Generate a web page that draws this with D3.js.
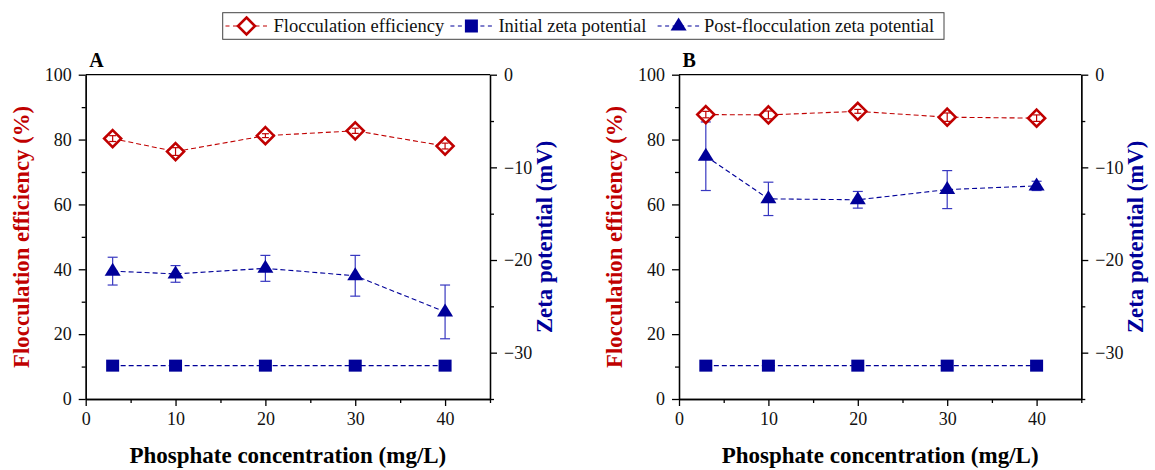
<!DOCTYPE html>
<html>
<head>
<meta charset="utf-8">
<script src="https://cdn.jsdelivr.net/npm/d3@7"></script>
<style>
  body { margin: 0; background: #fff; }
</style>
</head>
<body>
<svg id="chart" width="1155" height="470"></svg>
<script>
// data
var concentration = [3, 10, 20, 30, 40];

var effA = [80.3, 76.3, 81.2, 82.7, 78.0];
var effAErr = [0.9, 1.2, 0.6, 0.8, 0.9];
var initZetaA = [-31.4, -31.4, -31.4, -31.4, -31.4];
var postZetaA = [-21.2, -21.5, -20.9, -21.7, -25.6];
var postZetaAErr = [1.5, 0.9, 1.4, 2.2, 2.9];

var effB = [87.7, 87.6, 88.7, 86.9, 86.6];
var effBErr = [1.0, 1.2, 0.6, 1.3, 1.0];
var initZetaB = [-31.4, -31.4, -31.4, -31.4, -31.4];
var postZetaB = [-8.8, -13.4, -13.5, -12.4, -12.0];
var postZetaBErr = [3.7, 1.8, 0.9, 2.05, 0.5];

var leftTicks = [0, 20, 40, 60, 80, 100];
var leftMinor = [10, 30, 50, 70, 90];
var rightTicks = [0, -10, -20, -30];
var rightMinor = [-5, -15, -25, -35];
var xTicks = [0, 10, 20, 30, 40];
var xMinor = [5, 15, 25, 35, 45];

var legendLabels = ["Flocculation efficiency", "Initial zeta potential", "Post-flocculation zeta potential"];

var RED = "#c00000";
var NAVY = "#000099";
var ERRBLUE = "#3838c0";
var SERIF = "Liberation Serif";

var svg = d3.select("#chart");
var top_ = 74.7, bottom = 399;

var panels = [
  { letter: "A", left: 85.7, right: 490, eff: effA, effErr: effAErr, init: initZetaA, post: postZetaA, postErr: postZetaAErr },
  { letter: "B", left: 679, right: 1081.3, eff: effB, effErr: effBErr, init: initZetaB, post: postZetaB, postErr: postZetaBErr }
];

function diamond(g, r) {
  return g.append("path").attr("d", "M0," + (-r) + "L" + r + ",0L0," + r + "L" + (-r) + ",0Z");
}
function triangle(g) {
  return g.append("path").attr("d", "M0,-8.5L8,4.5L-8,4.5Z");
}

function styleAxis(a) {
  a.selectAll("path,line").attr("stroke", "#000").attr("stroke-width", 1.3);
  a.selectAll("text").attr("fill", "#111").style("font-family", SERIF).style("font-size", "18px");
}

function errorBars(g, xs, vals, errs, sc, xScale, color, cap) {
  var eb = g.append("g").attr("stroke", color).attr("stroke-width", 1.2);
  vals.forEach(function(v, i) {
    var x = xScale(xs[i]);
    var y1 = sc(v - errs[i]), y2 = sc(v + errs[i]);
    eb.append("line").attr("x1", x).attr("x2", x).attr("y1", y1).attr("y2", y2);
    eb.append("line").attr("x1", x - cap / 2).attr("x2", x + cap / 2).attr("y1", y1).attr("y2", y1);
    eb.append("line").attr("x1", x - cap / 2).attr("x2", x + cap / 2).attr("y1", y2).attr("y2", y2);
  });
}

function label(sel, size, bold) {
  return sel.style("font-family", SERIF).style("font-size", size + "px")
    .style("font-weight", bold ? "bold" : "normal");
}

panels.forEach(function(p) {
  var x = d3.scaleLinear().domain([0, 45]).range([p.left, p.right]);
  var y = d3.scaleLinear().domain([0, 100]).range([bottom, top_]);
  var yz = d3.scaleLinear().domain([-35, 0]).range([bottom, top_]);
  var g = svg.append("g");

  // frame top line
  g.append("line").attr("x1", p.left).attr("x2", p.right).attr("y1", top_).attr("y2", top_)
    .attr("stroke", "#000").attr("stroke-width", 1.3);

  var ax;
  ax = g.append("g").attr("transform", "translate(0," + bottom + ")")
    .call(d3.axisBottom(x).tickValues(xTicks).tickSize(7).tickPadding(6).tickSizeOuter(0));
  styleAxis(ax);
  ax = g.append("g").attr("transform", "translate(0," + bottom + ")")
    .call(d3.axisBottom(x).tickValues(xMinor).tickSize(4).tickFormat("").tickSizeOuter(0));
  styleAxis(ax);

  ax = g.append("g").attr("transform", "translate(" + p.left + ",0)")
    .call(d3.axisLeft(y).tickValues(leftTicks).tickSize(7).tickPadding(7).tickSizeOuter(0));
  styleAxis(ax);
  ax = g.append("g").attr("transform", "translate(" + p.left + ",0)")
    .call(d3.axisLeft(y).tickValues(leftMinor).tickSize(4).tickFormat("").tickSizeOuter(0));
  styleAxis(ax);

  ax = g.append("g").attr("transform", "translate(" + p.right + ",0)")
    .call(d3.axisRight(yz).tickValues(rightTicks).tickSize(7).tickPadding(7).tickSizeOuter(0));
  styleAxis(ax);
  ax = g.append("g").attr("transform", "translate(" + p.right + ",0)")
    .call(d3.axisRight(yz).tickValues(rightMinor).tickSize(4).tickFormat("").tickSizeOuter(0));
  styleAxis(ax);

  // panel letter
  label(g.append("text").attr("x", p.left + 3.5).attr("y", 66.5), 20, true).text(p.letter);

  // axis titles
  var midY = (top_ + bottom) / 2;
  label(g.append("text").attr("transform", "translate(" + (p.left - 57) + "," + midY + ") rotate(-90)")
    .attr("text-anchor", "middle").attr("fill", RED), 22.8, true).text("Flocculation efficiency (%)");
  label(g.append("text").attr("transform", "translate(" + (p.right + 62) + "," + midY + ") rotate(-90)")
    .attr("text-anchor", "middle").attr("fill", NAVY), 22.8, true).text("Zeta potential (mV)");
  label(g.append("text").attr("x", (p.left + p.right) / 2).attr("y", 462.5)
    .attr("text-anchor", "middle"), 23, true).text("Phosphate concentration (mg/L)");

  // lines
  function dashed(vals, sc, color) {
    g.append("path").datum(vals)
      .attr("d", d3.line().x(function(d, i) { return x(concentration[i]); }).y(function(d) { return sc(d); }))
      .attr("fill", "none").attr("stroke", color).attr("stroke-width", 1.1)
      .attr("stroke-dasharray", "5,3");
  }
  dashed(p.init, yz, NAVY);
  dashed(p.post, yz, NAVY);
  dashed(p.eff, y, RED);

  // post-flocculation zeta: error bars then triangles
  errorBars(g, concentration, p.post, p.postErr, yz, x, ERRBLUE, 10);
  p.post.forEach(function(v, i) {
    triangle(g.append("g").attr("transform", "translate(" + x(concentration[i]) + "," + yz(v) + ")"))
      .attr("fill", NAVY);
  });

  // initial zeta squares
  p.init.forEach(function(v, i) {
    g.append("rect").attr("x", x(concentration[i]) - 6.5).attr("y", yz(v) - 6)
      .attr("width", 13).attr("height", 12).attr("fill", NAVY);
  });

  // flocculation efficiency diamonds with error bars on top
  p.eff.forEach(function(v, i) {
    diamond(g.append("g").attr("transform", "translate(" + x(concentration[i]) + "," + y(v) + ")"), 8.5)
      .attr("fill", "#fff").attr("stroke", RED).attr("stroke-width", 2.6);
  });
  errorBars(g, concentration, p.eff, p.effErr, y, x, RED, 7);
});

// legend
var lg = svg.append("g");
lg.append("rect").attr("x", 222.7).attr("y", 12.7).attr("width", 721.3).attr("height", 26.6)
  .attr("fill", "#fff").attr("stroke", "#444").attr("stroke-width", 1);
var legendMarkX = [246.5, 471.4, 678.6];
var legendTextX = [273.5, 498.4, 704];
var legendColors = [RED, NAVY, NAVY];
var ly = 26;
legendLabels.forEach(function(lbl, i) {
  var cx = legendMarkX[i];
  lg.append("line").attr("x1", cx - 21).attr("x2", cx + 21).attr("y1", ly).attr("y2", ly)
    .attr("stroke", legendColors[i]).attr("stroke-width", 1.1).attr("stroke-dasharray", "4,3.5");
  var m = lg.append("g").attr("transform", "translate(" + cx + "," + ly + ")");
  if (i === 0) {
    diamond(m, 8.5).attr("fill", "#fff").attr("stroke", RED).attr("stroke-width", 2.6);
  } else if (i === 1) {
    m.append("rect").attr("x", -6.5).attr("y", -6.5).attr("width", 13).attr("height", 13).attr("fill", NAVY);
  } else {
    triangle(m).attr("fill", NAVY);
  }
  label(lg.append("text").attr("x", legendTextX[i]).attr("y", ly + 6).attr("fill", "#111"), 18.5, false).text(lbl);
});
</script>
</body>
</html>
